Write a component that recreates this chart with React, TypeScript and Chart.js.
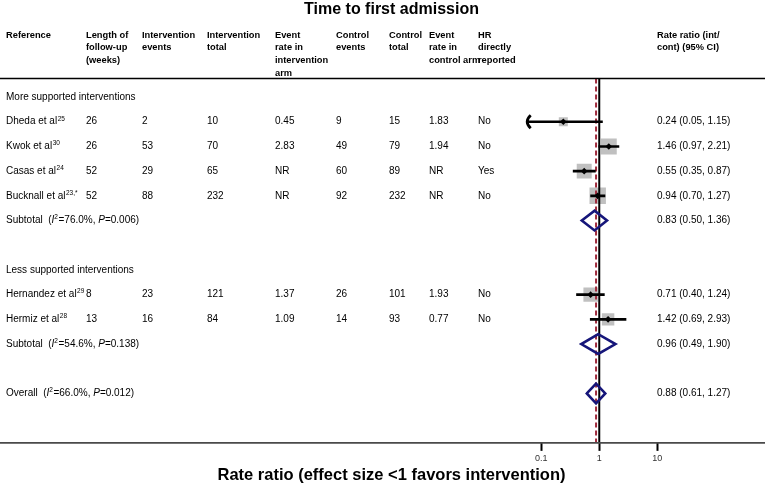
import React, { useEffect, useRef } from "react";
import { Chart, registerables } from "chart.js";

Chart.register(...registerables);

const FONT = "'Liberation Sans', Arial, Helvetica, sans-serif";

const titleText = "Time to first admission";
const axisTitle = "Rate ratio (effect size <1 favors intervention)";
const xTicks = [0.1, 1, 10];

const headers: string[][] = [
  ["Reference"],
  ["Length of", "follow-up", "(weeks)"],
  ["Intervention", "events"],
  ["Intervention", "total"],
  ["Event", "rate in", "intervention", "arm"],
  ["Control", "events"],
  ["Control", "total"],
  ["Event", "rate in", "control arm"],
  ["HR", "directly", "reported"],
  ["Rate ratio (int/", "cont) (95% CI)"],
];

const groupLabels = ["More supported interventions", "Less supported interventions"];
const groupRows = [0, 7];

const studyNames = ["Dheda et al", "Kwok et al", "Casas et al", "Bucknall et al", "Hernandez et al", "Hermiz et al"];
const studyRefs = ["25", "30", "24", "23,*", "29", "28"];
const studyRows = [1, 2, 3, 4, 8, 9];
const followUp = ["26", "26", "52", "52", "8", "13"];
const intEvents = ["2", "53", "29", "88", "23", "16"];
const intTotal = ["10", "70", "65", "232", "121", "84"];
const intRate = ["0.45", "2.83", "NR", "NR", "1.37", "1.09"];
const ctlEvents = ["9", "49", "60", "92", "26", "14"];
const ctlTotal = ["15", "79", "89", "232", "101", "93"];
const ctlRate = ["1.83", "1.94", "NR", "NR", "1.93", "0.77"];
const hrReported = ["No", "No", "Yes", "No", "No", "No"];
const rr = [0.24, 1.46, 0.55, 0.94, 0.71, 1.42];
const rrLow = [0.05, 0.97, 0.35, 0.7, 0.4, 0.69];
const rrHigh = [1.15, 2.21, 0.87, 1.27, 1.24, 2.93];
const weights = [6.8, 21.3, 18.8, 22.7, 17.5, 13.0];

const pooledLabels = ["Subtotal", "Subtotal", "Overall"];
const pooledI2 = ["76.0%", "54.6%", "66.0%"];
const pooledP = ["0.006", "0.138", "0.012"];
const pooledRR = [0.83, 0.96, 0.88];
const pooledLow = [0.5, 0.49, 0.61];
const pooledHigh = [1.36, 1.9, 1.27];
const pooledRows = [5, 10, 12];

const ciClipMin = 0.055;
const yMin = -0.75;
const yMax = 14;

const colX = [6, 86, 142, 207, 275, 336, 389, 429, 478, 657];

const fmt = (v: number) => v.toFixed(2);

const tablePlugin = {
  id: "forestTable",
  afterDraw(chart: any) {
    const { ctx, chartArea, scales } = chart;
    const xs = scales.x;
    const ys = scales.y;
    const W = chart.width;
    const reg = `10px ${FONT}`;
    const ita = `italic 10px ${FONT}`;
    const sup = `6.5px ${FONT}`;
    ctx.save();

    // header rule
    ctx.strokeStyle = "#000";
    ctx.lineWidth = 1.6;
    ctx.beginPath();
    ctx.moveTo(0, chartArea.top);
    ctx.lineTo(W, chartArea.top);
    ctx.stroke();
    // axis rule
    ctx.strokeStyle = "#4a4a4a";
    ctx.lineWidth = 1.6;
    ctx.beginPath();
    ctx.moveTo(0, chartArea.bottom);
    ctx.lineTo(W, chartArea.bottom);
    ctx.stroke();

    ctx.fillStyle = "#000";
    ctx.textBaseline = "middle";
    ctx.textAlign = "left";

    // headers
    ctx.font = `bold 9.3px ${FONT}`;
    headers.forEach((lines, c) =>
      lines.forEach((t, k) => ctx.fillText(t, colX[c], 35 + k * 12.7))
    );

    // group labels
    ctx.font = reg;
    groupLabels.forEach((t, i) => ctx.fillText(t, colX[0], ys.getPixelForValue(groupRows[i])));

    // studies
    studyNames.forEach((name, i) => {
      const y = ys.getPixelForValue(studyRows[i]);
      ctx.font = reg;
      ctx.fillText(name, colX[0], y);
      const w = ctx.measureText(name).width;
      ctx.font = sup;
      ctx.fillText(studyRefs[i], colX[0] + w + 0.5, y - 3);
      ctx.font = reg;
      const cells = [followUp[i], intEvents[i], intTotal[i], intRate[i], ctlEvents[i], ctlTotal[i], ctlRate[i], hrReported[i]];
      cells.forEach((t, c) => ctx.fillText(t, colX[c + 1], y));
      ctx.fillText(`${fmt(rr[i])} (${fmt(rrLow[i])}, ${fmt(rrHigh[i])})`, colX[9], y);

      if (rrLow[i] < ciClipMin) {
        const x = xs.getPixelForValue(ciClipMin);
        ctx.strokeStyle = "#000";
        ctx.lineWidth = 2.8;
        ctx.beginPath();
        ctx.moveTo(x + 4.5, y - 6.5);
        ctx.quadraticCurveTo(x - 2.5, y, x + 4.5, y + 6.5);
        ctx.stroke();
      }
    });

    // pooled rows
    pooledLabels.forEach((lab, i) => {
      const y = ys.getPixelForValue(pooledRows[i]);
      const segs: [string, string, number][] = [
        [lab + "  (", reg, 0],
        ["I", ita, 0],
        ["2", sup, -3],
        ["=" + pooledI2[i] + ", ", reg, 0],
        ["P", ita, 0],
        ["=" + pooledP[i] + ")", reg, 0],
      ];
      let x = colX[0];
      segs.forEach(([t, f, dy]) => {
        ctx.font = f;
        ctx.fillText(t, x, y + dy);
        x += ctx.measureText(t).width + (f === sup ? 0.5 : 0);
      });
      ctx.font = reg;
      ctx.fillText(`${fmt(pooledRR[i])} (${fmt(pooledLow[i])}, ${fmt(pooledHigh[i])})`, colX[9], y);
    });

    ctx.restore();
  },
};

export default function App() {
  const ref = useRef<HTMLCanvasElement | null>(null);

  useEffect(() => {
    document.body.style.margin = "0";
    const canvas = ref.current;
    if (!canvas) return;

    const datasets: any[] = [];

    // weight boxes
    datasets.push({
      data: studyRows.map((r, i) => ({ x: rr[i], y: r })),
      pointStyle: "rect",
      pointRadius: weights.map((w) => (Math.sqrt(w) * 3.45) / Math.SQRT2),
      backgroundColor: "#c0c0c0",
      borderWidth: 0,
      showLine: false,
      order: 10,
    });

    // null line
    datasets.push({
      data: [
        { x: 1, y: yMin },
        { x: 1, y: yMax },
      ],
      showLine: true,
      borderColor: "#000",
      borderWidth: 2,
      pointRadius: 0,
      order: 8,
    });

    // overall effect dashed line
    datasets.push({
      data: [
        { x: pooledRR[2], y: yMin },
        { x: pooledRR[2], y: yMax },
      ],
      showLine: true,
      borderColor: "#a02a3c",
      borderWidth: 2,
      borderDash: [5, 3],
      pointRadius: 0,
      order: 7,
    });

    // confidence intervals
    studyRows.forEach((r, i) => {
      datasets.push({
        data: [
          { x: Math.max(rrLow[i], ciClipMin), y: r },
          { x: rrHigh[i], y: r },
        ],
        showLine: true,
        borderColor: "#000",
        borderWidth: 2.6,
        pointRadius: 0,
        order: 5,
      });
    });

    // point estimates
    datasets.push({
      data: studyRows.map((r, i) => ({ x: rr[i], y: r })),
      pointStyle: "rectRot",
      pointRadius: 3.3,
      backgroundColor: "#000",
      borderWidth: 0,
      showLine: false,
      order: 4,
    });

    // pooled diamonds
    const hh = 0.4;
    pooledRows.forEach((r, i) => {
      datasets.push({
        data: [
          { x: pooledLow[i], y: r },
          { x: pooledRR[i], y: r - hh },
          { x: pooledHigh[i], y: r },
          { x: pooledRR[i], y: r + hh },
          { x: pooledLow[i], y: r },
          { x: pooledRR[i], y: r - hh },
        ],
        showLine: true,
        borderColor: "#16167a",
        borderWidth: 2.6,
        borderJoinStyle: "miter",
        pointRadius: 0,
        tension: 0,
        order: 3,
      });
    });

    const chart = new Chart(canvas, {
      type: "scatter",
      data: { datasets },
      options: {
        responsive: false,
        maintainAspectRatio: false,
        animation: false,
        events: [],
        layout: { autoPadding: false, padding: { left: 18, right: 0, top: 0, bottom: 0 } },
        plugins: {
          legend: { display: false },
          tooltip: { enabled: false },
          title: {
            display: true,
            text: titleText,
            color: "#000",
            font: { family: FONT, size: 16, weight: "bold", lineHeight: 1.2 },
            padding: { top: 0, bottom: 59.3 },
          },
        },
        scales: {
          x: {
            type: "logarithmic",
            min: 10 ** -10.02,
            max: 10 ** 2.857,
            bounds: "data",
            afterBuildTicks: (s: any) => {
              s.ticks = xTicks.map((v) => ({ value: v }));
            },
            ticks: {
              callback: (v: any) => String(v),
              font: { family: FONT, size: 9 },
              color: "#333",
              padding: 2.6,
              autoSkip: false,
              maxRotation: 0,
            },
            grid: {
              display: true,
              drawOnChartArea: false,
              drawTicks: true,
              tickLength: 8,
              tickWidth: 2,
              tickColor: "#000",
            },
            border: { display: false },
            title: {
              display: true,
              text: axisTitle,
              color: "#000",
              font: { family: FONT, size: 16.5, weight: "bold", lineHeight: 1.05 },
              padding: { top: 0, bottom: 0.8 },
            },
          },
          y: {
            type: "linear",
            display: false,
            min: yMin,
            max: yMax,
            reverse: true,
          },
        },
      } as any,
      plugins: [tablePlugin],
    });

    return () => chart.destroy();
  }, []);

  return (
    <div style={{ position: "absolute", left: 0, top: 0, width: 765, height: 485, background: "#fff" }}>
      <canvas ref={ref} width={765} height={485} style={{ display: "block" }} />
    </div>
  );
}
